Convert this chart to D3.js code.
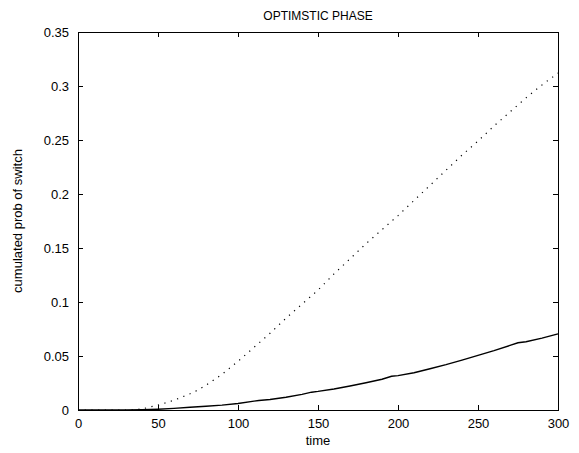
<!DOCTYPE html>
<html>
<head>
<meta charset="utf-8">
<script src="https://cdn.jsdelivr.net/npm/d3@7"></script>
<style>
    html, body { margin: 0; padding: 0; background: #fff; overflow: hidden; }
    svg { display: block; }
    svg text { font-family: "Liberation Sans", Arial, Helvetica, sans-serif; fill: #000; }
</style>
</head>
<body>
<div id="chart"></div>
<script>
const chartTitle = 'OPTIMSTIC PHASE';
const xLabel = 'time';
const yLabel = 'cumulated prob of switch';

const xTicks = [0, 50, 100, 150, 200, 250, 300];
const yTicks = [0, 0.05, 0.1, 0.15, 0.2, 0.25, 0.3, 0.35];

// solid curve (time, cumulated probability)
const solidTime = [0, 10, 20, 30, 40, 50, 60, 70, 80, 90, 100, 110, 113, 120, 130, 140, 146, 150, 160, 170, 180, 190, 196, 200, 210, 220, 230, 240, 250, 260, 270, 275, 280, 290, 300];
const solidProb = [0, 0, 0, 0, 0.0002, 0.0007, 0.0015, 0.0025, 0.0035, 0.0045, 0.006, 0.0082, 0.0088, 0.0097, 0.0118, 0.0145, 0.0165, 0.0172, 0.0195, 0.0222, 0.0252, 0.0285, 0.0312, 0.0318, 0.0345, 0.0382, 0.042, 0.0462, 0.0506, 0.055, 0.0598, 0.0623, 0.0632, 0.0665, 0.0705];

// dotted curve
const dottedTime = [0, 10, 20, 30, 35, 40, 50, 60, 70, 75, 80, 90, 100, 110, 120, 130, 140, 150, 160, 170, 180, 190, 200, 210, 220, 230, 240, 250, 260, 270, 280, 290, 300];
const dottedProb = [0, 0, 0, 0, 0.0003, 0.001, 0.0045, 0.009, 0.015, 0.0185, 0.023, 0.033, 0.045, 0.058, 0.071, 0.085, 0.098, 0.111, 0.126, 0.140, 0.154, 0.167, 0.180, 0.194, 0.208, 0.222, 0.236, 0.249, 0.263, 0.276, 0.289, 0.301, 0.312];

const width = 579;
const height = 453;
const margin = { top: 32, right: 21, bottom: 43, left: 78 };
const innerWidth = width - margin.left - margin.right;
const innerHeight = height - margin.top - margin.bottom;

const svg = d3.select('#chart').append('svg')
    .attr('width', width)
    .attr('height', height);

const chartGroup = svg.append('g')
    .attr('transform', `translate(${margin.left},${margin.top})`);

const xScale = d3.scaleLinear().domain([0, 300]).range([0, innerWidth]);
const yScale = d3.scaleLinear().domain([0, 0.35]).range([innerHeight, 0]);

const tickLength = 5;
const styleAxis = (group) => {
    group.select('.domain').remove();
    group.selectAll('line').attr('stroke', '#000').attr('stroke-width', 1);
    group.selectAll('text').attr('font-size', 13);
};

// bottom / left axes with labels, ticks pointing inward
chartGroup.append('g')
    .attr('transform', `translate(0,${innerHeight})`)
    .call(d3.axisBottom(xScale).tickValues(xTicks).tickSizeInner(-tickLength).tickPadding(9).tickFormat(d3.format('d')))
    .call(styleAxis);

chartGroup.append('g')
    .call(d3.axisLeft(yScale).tickValues(yTicks).tickSizeInner(-tickLength).tickPadding(9).tickFormat((value) => String(+value.toFixed(2))))
    .call(styleAxis);

// top / right axes, ticks only
chartGroup.append('g')
    .call(d3.axisTop(xScale).tickValues(xTicks).tickSizeInner(-tickLength))
    .call(styleAxis)
    .call((group) => group.selectAll('text').remove());

chartGroup.append('g')
    .attr('transform', `translate(${innerWidth},0)`)
    .call(d3.axisRight(yScale).tickValues(yTicks).tickSizeInner(-tickLength))
    .call(styleAxis)
    .call((group) => group.selectAll('text').remove());

chartGroup.append('rect')
    .attr('x', 0.5)
    .attr('y', 0.5)
    .attr('width', innerWidth)
    .attr('height', innerHeight)
    .attr('fill', 'none')
    .attr('stroke', '#000')
    .attr('stroke-width', 1);

const line = d3.line()
    .x((datum) => xScale(datum[0]))
    .y((datum) => yScale(datum[1]));

chartGroup.append('path')
    .datum(dottedTime.map((time, index) => [time, dottedProb[index]]))
    .attr('d', line)
    .attr('fill', 'none')
    .attr('stroke', '#000')
    .attr('stroke-width', 1.2)
    .attr('stroke-dasharray', '1.2,5.5');

chartGroup.append('path')
    .datum(solidTime.map((time, index) => [time, solidProb[index]]))
    .attr('d', line)
    .attr('fill', 'none')
    .attr('stroke', '#000')
    .attr('stroke-width', 1.4);

svg.append('text')
    .attr('x', margin.left + innerWidth / 2)
    .attr('y', 20)
    .attr('text-anchor', 'middle')
    .attr('font-size', 12)
    .text(chartTitle);

svg.append('text')
    .attr('x', margin.left + innerWidth / 2)
    .attr('y', 445)
    .attr('text-anchor', 'middle')
    .attr('font-size', 13)
    .text(xLabel);

svg.append('text')
    .attr('transform', 'rotate(-90)')
    .attr('x', -(margin.top + innerHeight / 2))
    .attr('y', 22)
    .attr('text-anchor', 'middle')
    .attr('font-size', 13)
    .text(yLabel);
</script>
</body>
</html>
